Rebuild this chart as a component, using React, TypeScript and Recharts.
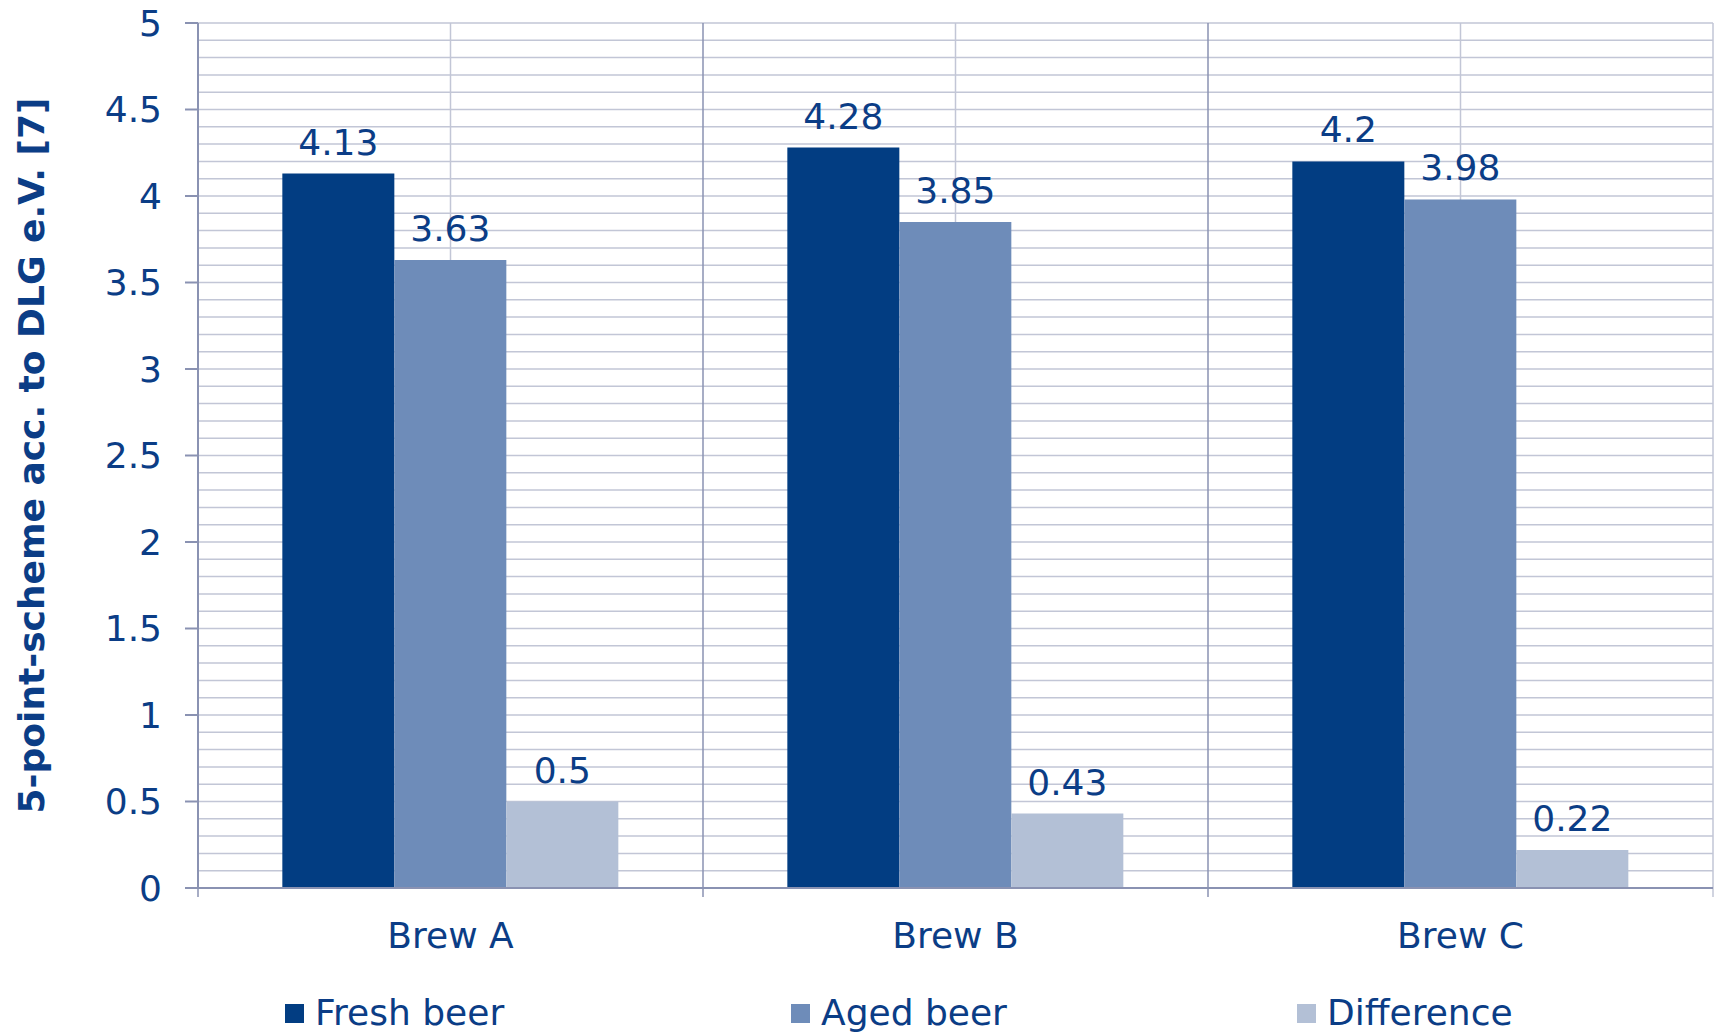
import { BarChart, Bar, XAxis, YAxis, CartesianGrid, Legend, LabelList, ReferenceLine } from "recharts";

const brews = ["Brew A", "Brew B", "Brew C"];
const freshBeer = [4.13, 4.28, 4.2];
const agedBeer = [3.63, 3.85, 3.98];
const difference = [0.5, 0.43, 0.22];

const yTicks = [0, 0.5, 1, 1.5, 2, 2.5, 3, 3.5, 4, 4.5, 5];
// minor grid every 0.1
const minorTicks = Array.from({ length: 51 }, (_, i) => i / 10);

const TEXT = "#0B3D86";
const AXIS = "#8A92B2";
const GRID = "#C2C6D6";
const FONT = "'DejaVu Sans', Verdana, sans-serif";

const series = [
  { key: "fresh", name: "Fresh beer", color: "#023D82" },
  { key: "aged", name: "Aged beer", color: "#6E8CB9" },
  { key: "diff", name: "Difference", color: "#B3C0D6" },
];

const data = brews.map((brew, i) => ({
  brew,
  fresh: freshBeer[i],
  aged: agedBeer[i],
  diff: difference[i],
}));

// category divider that also pokes below the x axis as a tick mark
const dividerShape = (color: string) => (p: any) => (
  <line
    x1={p.x1}
    x2={p.x2}
    y1={Math.min(p.y1, p.y2)}
    y2={Math.max(p.y1, p.y2) + 9}
    stroke={color}
    strokeWidth={1.5}
  />
);

function BeerLegend() {
  return (
    <div style={{ display: "flex", paddingLeft: 285 }}>
      {series.map((s) => (
        <div key={s.key} style={{ width: 506, flexShrink: 0, display: "flex", alignItems: "center" }}>
          <span style={{ width: 19, height: 19, background: s.color, marginRight: 11, display: "inline-block" }} />
          <span style={{ fontSize: 36, color: TEXT, lineHeight: "40px" }}>{s.name}</span>
        </div>
      ))}
    </div>
  );
}

export default function App() {
  return (
    <div style={{ position: "absolute", left: 0, top: 0, width: 1717, height: 1033, fontFamily: FONT, background: "#fff", overflow: "hidden" }}>
      <BarChart
        width={1717}
        height={1033}
        data={data}
        margin={{ top: 23, right: 4, bottom: 75, left: 0 }}
        barCategoryGap="16.7%"
        barGap={0}
      >
        <CartesianGrid
          horizontalValues={minorTicks}
          verticalValues={brews}
          stroke={GRID}
          strokeWidth={1.5}
        />
        <XAxis
          dataKey="brew"
          height={70}
          stroke={AXIS}
          strokeWidth={2}
          tickLine={false}
          tickSize={10}
          tickMargin={24}
          interval={0}
          tick={{ fill: TEXT, fontSize: 36 }}
        />
        <YAxis
          domain={[0, 5]}
          ticks={yTicks}
          interval={0}
          width={198}
          tickSize={13}
          tickMargin={23}
          stroke={AXIS}
          strokeWidth={2}
          tick={{ fill: TEXT, fontSize: 36 }}
          label={{
            value: "5-point-scheme acc. to DLG e.V. [7]",
            angle: -90,
            position: "insideLeft",
            offset: 31,
            fill: TEXT,
            fontSize: 36,
            fontWeight: "bold",
            style: { textAnchor: "middle" },
          }}
        />
        {brews.map((b) => (
          <ReferenceLine key={b} x={b} position="start" stroke={AXIS} shape={dividerShape(AXIS)} />
        ))}
        <ReferenceLine
          x={brews[brews.length - 1]}
          position="end"
          stroke={GRID}
          shape={dividerShape(GRID)}
        />
        <Legend
          verticalAlign="middle"
          align="center"
          wrapperStyle={{ left: 0, top: 993, width: 1717 }}
          content={() => <BeerLegend />}
        />
        {series.map((s) => (
          <Bar
            key={s.key}
            dataKey={s.key}
            name={s.name}
            fill={s.color}
            isAnimationActive={false}
          >
            <LabelList dataKey={s.key} position="top" offset={19} fill={TEXT} fontSize={36} />
          </Bar>
        ))}
      </BarChart>
    </div>
  );
}
